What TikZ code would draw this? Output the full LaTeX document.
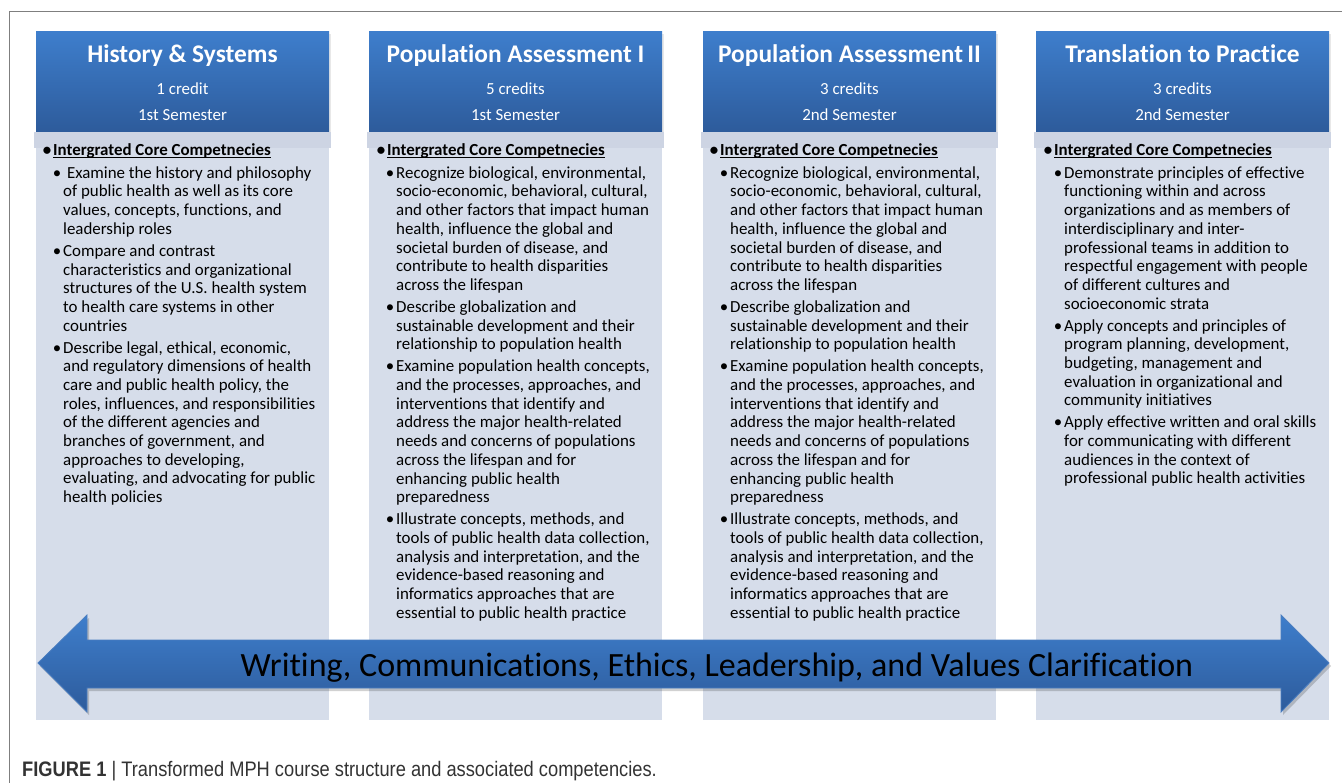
\documentclass[tikz,border=0pt]{standalone}
\usepackage{fontspec}
\setmainfont{Carlito}[Ligatures=NoCommon]
\newfontfamily\capfont{Liberation Sans}[FakeStretch=0.87]
\definecolor{hdtop}{HTML}{3E7ECC}
\definecolor{hdbot}{HTML}{2D5B9B}
\definecolor{bodyc}{HTML}{D6DDEA}
\definecolor{bandc}{HTML}{CDD4E3}
\definecolor{framec}{HTML}{7F7F7F}
\definecolor{arredge}{HTML}{4A7DC0}
\definecolor{capc}{HTML}{333333}
\newcommand\bul{\rule{0pt}{12pt}\llap{\textbullet\hspace{2pt}}}
\newcommand\uln[1]{\setbox0\hbox{#1}\rlap{\rule[-2.4pt]{\wd0}{0.9pt}}\box0}
\begin{document}
\begin{tikzpicture}[x=1pt,y=-1pt,
  hdtitle/.style={anchor=base,text=white,inner sep=0,font=\fontsize{25.4}{30}\selectfont\bfseries},
  hdsub/.style={anchor=base,text=white,inner sep=0,font=\fontsize{16.9}{20}\selectfont},
  comphead/.style={anchor=north west,inner sep=0,align=left,font=\fontsize{16.9}{18.7}\selectfont\bfseries},
  items/.style={anchor=north west,inner sep=0,align=left,font=\fontsize{16.9}{18.7}\selectfont},
  arrowtext/.style={anchor=base,inner sep=0,font=\fontsize{34}{40}\selectfont},
  captext/.style={anchor=base west,inner sep=0,text=capc,font=\capfont\fontsize{21}{24}\selectfont}]
\useasboundingbox (0,0) rectangle (1342,783);
\fill[white] (0,0) rectangle (1342,783);
\draw[framec,line width=1pt] (9,783) -- (9,12) -- (1342,12);
% columns
\foreach \x in {36,369,703,1036}{
  \fill[black!25,opacity=0.35] (\x+2,34) rectangle ++(293,100);
  \shade[top color=hdtop,bottom color=hdbot] (\x,32) rectangle ++(293,100);
  \fill[bodyc] (\x,132) rectangle ++(293,588);
  \fill[bandc] (\x-2,132) rectangle ++(297,16);
}
% headers
\node[hdtitle] (t1) at (182.5,63) {History \& Systems};
\node[hdsub] (c1) at (182.5,95) {1 credit};
\node[hdsub] (s1) at (182.5,121) {1st Semester};
\node[hdtitle] (t2) at (515.5,63) {Population Assessment I};
\node[hdsub] (c2) at (515.5,95) {5 credits};
\node[hdsub] (s2) at (515.5,121) {1st Semester};
\node[hdtitle] (t3) at (849.5,63) {Population Assessment\,II};
\node[hdsub] (c3) at (849.5,95) {3 credits};
\node[hdsub] (s3) at (849.5,121) {2nd Semester};
\node[hdtitle] (t4) at (1182.5,63) {Translation to Practice};
\node[hdsub] (c4) at (1182.5,95) {3 credits};
\node[hdsub] (s4) at (1182.5,121) {2nd Semester};
% competency headings
\foreach \x/\n in {53/h1,387/h2,720/h3,1054/h4}{
  \node[comphead] (\n) at (\x,143) {\bul\uln{Intergrated Core Competnecies}};
}
% column 1 items
\node[items] (b1) at (63,166) {%
\bul\ Examine the history and philosophy\\
of public health as well as its core\\
values, concepts, functions, and\\
leadership roles\\[3.3pt]
\bul Compare and contrast\\
characteristics and organizational\\
structures of the U.S. health system\\
to health care systems in other\\
countries\\[3.3pt]
\bul Describe legal, ethical, economic,\\
and regulatory dimensions of health\\
care and public health policy, the\\
roles, influences, and responsibilities\\
of the different agencies and\\
branches of government, and\\
approaches to developing,\\
evaluating, and advocating for public\\
health policies};
% columns 2 and 3 items
\foreach \x/\n in {396/b2,730/b3}{
\node[items] (\n) at (\x,166) {%
\bul Recognize biological, environmental,\\
socio-economic, behavioral, cultural,\\
and other factors that impact human\\
health, influence the global and\\
societal burden of disease, and\\
contribute to health disparities\\
across the lifespan\\[3.3pt]
\bul Describe globalization and\\
sustainable development and their\\
relationship to population health\\[3.3pt]
\bul Examine population health concepts,\\
and the processes, approaches, and\\
interventions that identify and\\
address the major health-related\\
needs and concerns of populations\\
across the lifespan and for\\
enhancing public health\\
preparedness\\[3.3pt]
\bul Illustrate concepts, methods, and\\
tools of public health data collection,\\
analysis and interpretation, and the\\
evidence-based reasoning and\\
informatics approaches that are\\
essential to public health practice};
}
% column 4 items
\node[items] (b4) at (1064,166) {%
\bul Demonstrate principles of effective\\
functioning within and across\\
organizations and as members of\\
interdisciplinary and inter-\\
professional teams in addition to\\
respectful engagement with people\\
of different cultures and\\
socioeconomic strata\\[3.3pt]
\bul Apply concepts and principles of\\
program planning, development,\\
budgeting, management and\\
evaluation in organizational and\\
community initiatives\\[3.3pt]
\bul Apply effective written and oral skills\\
for communicating with different\\
audiences in the context of\\
professional public health activities};
% double arrow
\fill[black,opacity=0.18] (40,666) -- (89,618) -- (89,643) -- (1283,643) -- (1283,618) -- (1331,666) -- (1283,715) -- (1283,691) -- (89,691) -- (89,715) -- cycle;
\shadedraw[top color=hdtop,bottom color=hdbot,draw=arredge,line width=0.8pt]
  (38,663) -- (87,615) -- (87,640) -- (1281,640) -- (1281,615) -- (1329,663)
  -- (1281,712) -- (1281,688) -- (87,688) -- (87,712) -- cycle;
\node[arrowtext] (atext) at (717,676) {Writing, Communications, Ethics, Leadership, and Values Clarification};
% caption
\node[captext] (cap) at (22,776) {\textbf{FIGURE 1} | Transformed MPH course structure and associated competencies.};
\end{tikzpicture}
\end{document}
